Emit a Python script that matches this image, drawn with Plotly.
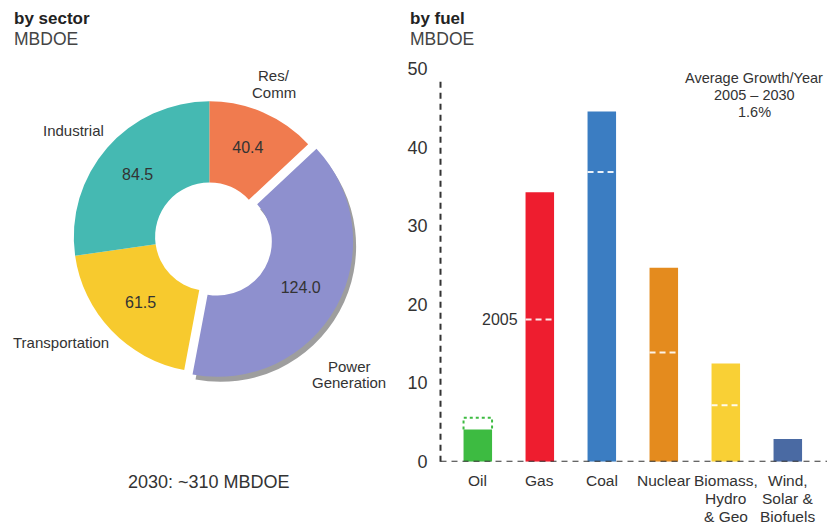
import plotly.graph_objects as go

# ---------------- data ----------------
sectors = ["Res/Comm", "Power Generation", "Transportation", "Industrial"]
sector_values = [40.4, 124.0, 61.5, 84.5]
sector_colors = ["#F07B4F", "#8E90CE", "#F7CA2E", "#45B9B2"]
sector_pull = [0, 0.07, 0, 0]

fuels = ["Oil", "Gas", "Coal", "Nuclear", "Biomass,<br>Hydro<br>& Geo", "Wind,<br>Solar &<br>Biofuels"]
fuel_2030 = [4.1, 34.3, 44.6, 24.7, 12.5, 2.9]
fuel_2005 = [5.6, 18.1, 36.9, 13.9, 7.2, None]
fuel_colors = ["#3DBB41", "#EE1D2F", "#3B7DC2", "#E48B1E", "#F9D035", "#4A6AA3"]
y_ticks = [0, 10, 20, 30, 40, 50]

W, H = 827, 527
FONT = "Liberation Sans, Arial, Helvetica, sans-serif"
TXT = "#333333"


def px(x):
    return x / W


def py(y):
    return 1 - y / H


fig = go.Figure()

# ---------------- donut ----------------
cx, cy, R, pull = 209.3, 236.8, 135.5, max(sector_pull)
half = R * (1 + pull)


def pie_domain(dx=0.0, dy=0.0):
    return dict(x=[px(cx - half + dx), px(cx + half + dx)],
                y=[py(cy + half + dy), py(cy - half + dy)])


# soft shadow under the pulled slice
shadow_colors = ["rgba(40,40,40,0.45)" if p > 0 else "rgba(0,0,0,0)" for p in sector_pull]
fig.add_trace(go.Pie(
    labels=sectors, values=sector_values, sort=False, direction="clockwise", rotation=0,
    hole=0.4, pull=sector_pull, marker=dict(colors=shadow_colors, line=dict(width=0)),
    textinfo="none", domain=pie_domain(3, 5), showlegend=False, hoverinfo="skip",
))

fig.add_trace(go.Pie(
    labels=sectors, values=sector_values, sort=False, direction="clockwise", rotation=0,
    hole=0.4, pull=sector_pull,
    marker=dict(colors=sector_colors, line=dict(width=0)),
    texttemplate="%{value:.1f}", textposition="inside", insidetextorientation="horizontal",
    textfont=dict(family=FONT, size=16, color=TXT),
    domain=pie_domain(), showlegend=False, hoverinfo="label+value",
))

# ---------------- bars ----------------
idx = list(range(len(fuels)))
bw = 0.46
fig.add_trace(go.Bar(
    x=idx, y=fuel_2030, width=bw, marker=dict(color=fuel_colors, line=dict(width=0)),
    showlegend=False, xaxis="x", yaxis="y", hoverinfo="y",
))

hw = bw / 2
for i, (v30, v05, col) in enumerate(zip(fuel_2030, fuel_2005, fuel_colors)):
    if v05 is None:
        continue
    if v05 <= v30:
        fig.add_trace(go.Scatter(
            x=[i - hw, i + hw], y=[v05, v05], mode="lines",
            line=dict(color="rgba(255,255,255,0.9)", width=2, dash="6px,4px"),
            showlegend=False, hoverinfo="skip"))
    else:
        fig.add_trace(go.Scatter(
            x=[i - hw, i - hw, i + hw, i + hw], y=[v30, v05, v05, v30], mode="lines",
            line=dict(color=col, width=2, dash="dot"),
            showlegend=False, hoverinfo="skip"))

# axes (bar chart): category i sits at 477.8 + 62*i px, value 0 at 461.7 px, 50 at 69 px
x_left, x_right = 440.5, 827
fig.update_layout(
    xaxis=dict(domain=[px(x_left), 1.0],
               range=[(x_left - 477.8) / 62, (x_right - 477.8) / 62],
               tickmode="array", tickvals=idx, showticklabels=False,
               showgrid=False, zeroline=False, showline=False, ticks="", automargin=False,
               anchor="y"),
    yaxis=dict(domain=[py(461.7), py(69)], range=[0, 50], tickmode="array", tickvals=y_ticks,
               showgrid=False, zeroline=False, showline=False, ticks="", automargin=False,
               tickfont=dict(family=FONT, size=18, color=TXT), anchor="x",
               ticklabelstandoff=12),
)

shapes = [
    dict(type="line", xref="x domain", yref="y domain", x0=0, x1=0, y0=0, y1=0.98,
         line=dict(color="#333333", width=2, dash="6px,5px"), layer="above"),
    dict(type="line", xref="x domain", yref="y", x0=0, x1=1, y0=0, y1=0,
         line=dict(color="#333333", width=2, dash="6px,5px"), layer="above"),
]

annotations = []


def text_lines(lines, x, y0, spacing, size, anchor="center", color=TXT, bold=False):
    for k, t in enumerate(lines):
        annotations.append(dict(
            text=f"<b>{t}</b>" if bold else t, x=px(x), y=py(y0 + k * spacing),
            xref="paper", yref="paper", xanchor=anchor, yanchor="middle", showarrow=False,
            font=dict(family=FONT, size=size, color=color)))


# category labels of the bar chart (one annotation per line, tight line spacing)
for i, lab in enumerate(fuels):
    for k, part in enumerate(lab.split("<br>")):
        annotations.append(dict(
            text=part, x=i, xref="x", y=py(480.5 + k * 17.8), yref="paper",
            xanchor="center", yanchor="middle", showarrow=False,
            font=dict(family=FONT, size=15.5, color=TXT)))

# titles
text_lines(["by sector"], 12, 18, 0, 17, "left", "#222222", bold=True)
text_lines(["MBDOE"], 12, 39, 0, 17.5, "left", "#444444")
text_lines(["by fuel"], 408, 18, 0, 17, "left", "#222222", bold=True)
text_lines(["MBDOE"], 408, 39, 0, 17.5, "left", "#444444")

# donut outer labels
text_lines(["Res/", "Comm"], 274, 75, 17, 15)
text_lines(["Industrial"], 73, 131, 0, 15)
text_lines(["Transportation"], 61, 342, 0, 15)
text_lines(["Power", "Generation"], 349, 366, 16, 15)
text_lines(["2030: ~310 MBDOE"], 209, 482, 0, 18)

# bar chart notes
text_lines(["Average Growth/Year", "2005 \u2013 2030", "1.6%"], 754, 78, 17, 14.5)
annotations.append(dict(
    text="2005", x=1 - hw, y=fuel_2005[1], xref="x", yref="y", xanchor="right",
    yanchor="middle", xshift=-6, showarrow=False, font=dict(family=FONT, size=16, color=TXT)))

fig.update_layout(
    width=W, height=H, autosize=False,
    margin=dict(l=0, r=0, t=0, b=0, pad=0),
    paper_bgcolor="white", plot_bgcolor="white",
    shapes=shapes, annotations=annotations,
    font=dict(family=FONT, color=TXT),
    showlegend=False,
)

fig.write_html(
    "out.html",
    config={"displayModeBar": False},
    post_script="document.body.style.margin='0';document.body.style.overflow='hidden';",
)
